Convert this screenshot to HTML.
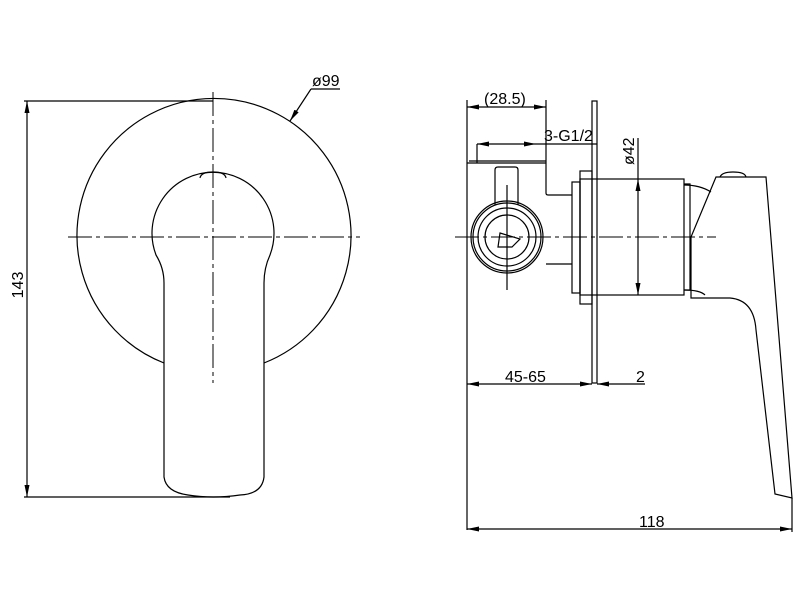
<!DOCTYPE html>
<html><head><style>body{margin:0;background:#fff}svg{display:block}text{font-family:"Liberation Sans",sans-serif;font-size:16px;fill:#000;stroke:none;font-weight:normal}</style></head><body>
<svg width="800" height="600" viewBox="0 0 800 600" xmlns="http://www.w3.org/2000/svg" fill="none" stroke="#000" stroke-width="1.2">
<defs><marker id="a" markerWidth="12" markerHeight="5" refX="12" refY="2.5" orient="auto" markerUnits="userSpaceOnUse"><path d="M0,0L12,2.5L0,5z" fill="#000" stroke="none"/></marker></defs>
<!-- LEFT VIEW -->
<path d="M164,363 A137,137 0 1 1 264,363"/>
<path d="M164,283 Q164,268 156,255 A61,61 0 1 1 270,255 Q264,268 264,283 L264,477 Q262,494 240,495 Q213,499 188,495 Q166,492 164,477 Z"/>
<path d="M200,178 Q201,172 213,172 Q225,172 226,178"/>
<path d="M68,237 H360" stroke-dasharray="24,4,4,4" stroke-width="1"/>
<path d="M213,92 V383" stroke-dasharray="24,4,4,4" stroke-width="1"/>
<path d="M24,101 H213 M24,497 H230"/>
<path d="M27,300 V101" marker-end="url(#a)"/>
<path d="M27,300 V497" marker-end="url(#a)"/>
<path d="M311,89 L290,121" marker-end="url(#a)"/>
<path d="M311,89 H340"/>
<text x="312" y="86">ø99</text>
<text transform="translate(23,285) rotate(-90)" text-anchor="middle">143</text>
<!-- RIGHT VIEW -->
<path d="M467,100 V530 M546,100 V163 M792,498 V532"/>
<path d="M505,107 H467" marker-end="url(#a)"/><path d="M505,107 H546" marker-end="url(#a)"/>
<text x="484" y="104">(28.5)</text>
<path d="M505,144 H477" marker-end="url(#a)"/><path d="M505,144 H536" marker-end="url(#a)"/>
<path d="M536,144 H597 M477,144 V163"/>
<text x="544" y="141">3-G1/2</text>
<rect x="592" y="101" width="5" height="282"/>
<path d="M467,163 H546 M469,161 H546 M546,163 V193 Q546,195 548,195 H572 M546,264 H572"/>
<path d="M495,205 V170 Q495,167 498,167 H515 Q518,167 518,170 V205"/>
<circle cx="507" cy="237" r="36"/><circle cx="507" cy="237" r="34"/><circle cx="507" cy="237" r="29"/><circle cx="507" cy="237" r="22"/>
<path d="M500,233 L520,239 L512,247 L498,247 Z"/>
<path d="M507,185 V290"/>
<rect x="572" y="182" width="8" height="111"/>
<rect x="580" y="171" width="12" height="133"/>
<rect x="580" y="179" width="104" height="116"/>
<path d="M684,184 H690 V290 H684"/>
<path d="M684,185 Q700,185 711,192 M684,290 Q700,290 705,295"/>
<path d="M638,138 V179"/>
<path d="M638,237 V179" marker-end="url(#a)"/><path d="M638,237 V295" marker-end="url(#a)"/>
<text transform="translate(634,165) rotate(-90)">ø42</text>
<path d="M455,237 H716" stroke-dasharray="24,4,4,4" stroke-width="1"/>
<path d="M716,177 L691,237 V298 H730 Q754,300 756,330 L775,494 L792,498 L766,177 Z"/>
<path d="M720,177 Q722,172 733,172 Q745,172 746,177"/>
<path d="M530,384 H592" marker-end="url(#a)"/><path d="M530,384 H467" marker-end="url(#a)"/>
<path d="M645,384 H597" marker-end="url(#a)"/>
<text x="505" y="382">45-65</text>
<text x="636" y="382">2</text>
<path d="M630,529 H467" marker-end="url(#a)"/><path d="M630,529 H792" marker-end="url(#a)"/>
<text x="639" y="527">118</text>
</svg>
</body></html>
